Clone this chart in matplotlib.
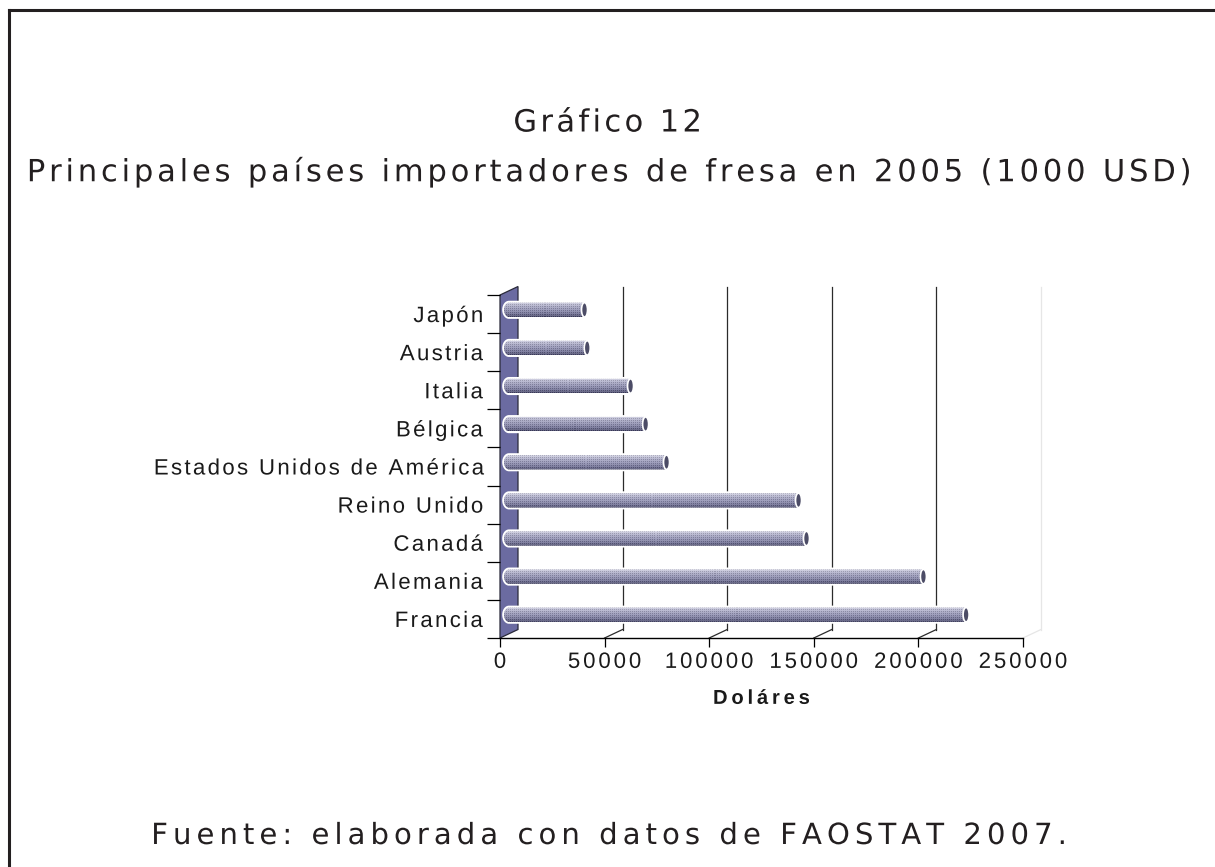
import numpy as np
import matplotlib
matplotlib.use("Agg")
import matplotlib.pyplot as plt
from matplotlib.patches import Polygon, Ellipse, PathPatch
from matplotlib.path import Path
from matplotlib.lines import Line2D
from matplotlib.textpath import TextPath
from matplotlib.patheffects import AbstractPathEffect
from matplotlib.font_manager import findfont, get_font

try:
    from matplotlib.ft2font import LoadFlags
    NO_HINT = LoadFlags.NO_HINTING
except Exception:  # older matplotlib
    from matplotlib.ft2font import LOAD_NO_HINTING as NO_HINT

# ---------------- data ----------------
categories = ["Francia", "Alemania", "Canadá", "Reino Unido",
              "Estados Unidos de América", "Bélgica", "Italia", "Austria", "Japón"]
values = [218500, 198100, 142200, 138400, 75300, 65300, 58100, 37400, 36100]
xticks = [0, 50000, 100000, 150000, 200000, 250000]
xtick_labels = ["0", "50000", "100000", "150000", "200000", "250000"]
title1 = "Gráfico 12"
title2 = "Principales países importadores de fresa en 2005 (1000 USD)"
xlabel = "Doláres"
source = "Fuente: elaborada con datos de FAOSTAT 2007."


# ---------------- letter-spacing path effect ----------------
class Tracked(AbstractPathEffect):
    """Redraws a text's glyphs with extra spacing between characters."""

    def __init__(self, text, prop, tracking_em, anchor="left"):
        super().__init__()
        fp = prop.copy()
        fp.set_size(100)
        font = get_font(findfont(fp))
        font.set_size(100, 72)
        tr = tracking_em * 100.0
        x = 0.0
        V, C = [], []
        for ch in text:
            g = font.load_char(ord(ch), flags=NO_HINT)
            adv = g.linearHoriAdvance / 65536.0
            if not ch.isspace():
                tp = TextPath((x, 0), ch, prop=fp, size=100)
                if len(tp.vertices):
                    V.append(np.asarray(tp.vertices))
                    C.append(np.asarray(tp.codes))
            x += adv + tr
        extra = tr * (len(text) - 1)
        shift = {"left": 0.0, "center": -extra / 2.0, "right": -extra}[anchor]
        verts = np.concatenate(V) + np.array([shift, 0.0])
        self._path = Path(verts, np.concatenate(C))

    def draw_path(self, renderer, gc, tpath, affine, rgbFace=None):
        renderer.draw_path(gc, self._path, affine, rgbFace)


def track(textobj, tracking_em, anchor):
    textobj.set_path_effects([Tracked(textobj.get_text(), textobj.get_fontproperties(),
                                      tracking_em, anchor)])


# ---------------- figure ----------------
W, H, DPI = 1215, 867, 100
fig = plt.figure(figsize=(W / DPI, H / DPI), dpi=DPI)
fig.patch.set_facecolor("white")

# frame (top + left border lines)
fig.add_artist(Line2D([9 / W, 1.0], [1 - 10 / H, 1 - 10 / H], color="#231f20", lw=2.2))
fig.add_artist(Line2D([9 / W, 9 / W], [1 - 10 / H, 0.0], color="#231f20", lw=2.2))

# plot area in pixels (front plane)
L, R, T, B = 500, 1023, 295, 638
ax = fig.add_axes([L / W, 1 - B / H, (R - L) / W, (B - T) / H])
n = len(categories)
ax.set_xlim(0, xticks[-1])
ax.set_ylim(-0.5, n - 0.5)
ax.patch.set_alpha(0)

px_x = xticks[-1] / (R - L)      # data units per pixel (x)
px_y = n / (B - T)               # data units per pixel (y)
DX, DY = 18, 8.5                 # depth offset in pixels
dxd, dyd = DX * px_x, DY * px_y

# left wall
wall = Polygon([(0, -0.5), (0, n - 0.5), (dxd, n - 0.5 + dyd), (dxd, -0.5 + dyd)],
               closed=True, facecolor="#6b6ba1", edgecolor="#2a2a3a", lw=0.9,
               clip_on=False, zorder=1)
ax.add_patch(wall)

# gridlines on floor + back wall
for t in xticks[1:]:
    c = "#2b2b2b" if t < xticks[-1] else "#e6e6e6"
    ax.add_line(Line2D([t, t + dxd], [-0.5, -0.5 + dyd], color=c, lw=0.9,
                       clip_on=False, zorder=1))
    ax.add_line(Line2D([t + dxd, t + dxd], [-0.5 + dyd, n - 0.5 + dyd], color=c, lw=0.9,
                       clip_on=False, zorder=1))

# cylinders
bh = 14.5 * px_y
a_left = 5 * px_x
cap_w = 6 * px_x
stops_pos = np.array([0.0, 0.12, 0.3, 0.55, 0.8, 1.0])
stops_col = np.array([
    [206, 206, 222],
    [190, 190, 210],
    [168, 168, 194],
    [148, 148, 178],
    [120, 120, 152],
    [88, 88, 118],
]) / 255.0
nrows = 15
row_pos = np.linspace(0, 1, nrows)
grad = np.stack([np.interp(row_pos, stops_pos, stops_col[:, k]) for k in range(3)], axis=-1)

for i, v in enumerate(values):
    yc = i + dyd / 2
    x0 = dxd / 2
    x1 = v + dxd / 2
    t = np.linspace(np.pi / 2, 3 * np.pi / 2, 25)
    pts = [(x0 + a_left * np.cos(tt), yc + (bh / 2) * np.sin(tt)) for tt in t]
    pts += [(x1, yc - bh / 2), (x1, yc + bh / 2), pts[0]]
    codes = [Path.MOVETO] + [Path.LINETO] * (len(pts) - 2) + [Path.CLOSEPOLY]
    path = Path(pts, codes)
    outline = PathPatch(path, facecolor="white", edgecolor="white", lw=2.6,
                        clip_on=False, zorder=3)
    ax.add_patch(outline)
    ncols = max(int((x1 - x0 + a_left) / px_x), 2)
    img = np.repeat(grad[:, None, :], ncols, axis=1)
    ii, jj = np.meshgrid(np.arange(nrows), np.arange(ncols), indexing="ij")
    dots = ((ii % 2 == 0) & (jj % 2 == 0))[:, :, None]
    img = np.clip(img + np.where(dots, -0.12, 0.03), 0, 1)
    clip = PathPatch(path, facecolor="none", edgecolor="none", transform=ax.transData)
    im = ax.imshow(img, extent=(x0 - a_left, x1, yc - bh / 2, yc + bh / 2),
                   origin="upper", aspect="auto", interpolation="nearest",
                   zorder=4, clip_on=True)
    im.set_clip_path(clip)
    cap = Ellipse((x1, yc), width=cap_w, height=bh, facecolor="#4c4c66",
                  edgecolor="white", lw=1.2, clip_on=False, zorder=5)
    ax.add_patch(cap)

ax.set_xlim(0, xticks[-1])
ax.set_ylim(-0.5, n - 0.5)

# axes styling
for s in ["top", "right", "left"]:
    ax.spines[s].set_visible(False)
ax.spines["bottom"].set_color("black")
ax.spines["bottom"].set_linewidth(1.0)
ax.spines["bottom"].set_zorder(2)

ax.set_xticks(xticks)
ax.set_xticklabels(xtick_labels)
ax.tick_params(axis="x", direction="out", length=6.5, width=0.9, color="black",
               pad=3.5, labelsize=16)
ax.set_yticks(range(n))
ax.set_yticklabels(categories)
ax.set_yticks(np.arange(-0.5, n, 1.0), minor=True)
ax.tick_params(axis="y", which="major", length=0, pad=12, labelsize=16)
ax.tick_params(axis="y", which="minor", length=9.5, width=0.9, color="black", direction="out")
for lab in ax.get_xticklabels():
    lab.set_fontfamily("Liberation Sans")
    lab.set_color("#1a1a1a")
    track(lab, 0.13, "center")
for lab in ax.get_yticklabels():
    lab.set_fontfamily("Liberation Sans")
    lab.set_color("#1a1a1a")
    track(lab, 0.105, "right")

xl = ax.set_xlabel(xlabel, fontfamily="Liberation Sans", fontweight="bold", fontsize=14.5,
                   labelpad=11.5, color="#1a1a1a")
track(xl, 0.19, "center")

# titles and source
t1 = fig.text(0.5, 1 - 123 / H, title1, ha="center", va="center", fontfamily="DejaVu Sans",
              fontsize=22, color="#231f20")
track(t1, 0.11, "center")
t2 = fig.text(0.5, 1 - 172 / H, title2, ha="center", va="center", fontfamily="DejaVu Sans",
              fontsize=22, color="#231f20")
track(t2, 0.125, "center")
t3 = fig.text(0.497, 1 - 836 / H, source, ha="center", va="center", fontfamily="DejaVu Sans",
              fontsize=21, color="#231f20")
track(t3, 0.172, "center")

fig.savefig("out.png", dpi=DPI, facecolor="white")
